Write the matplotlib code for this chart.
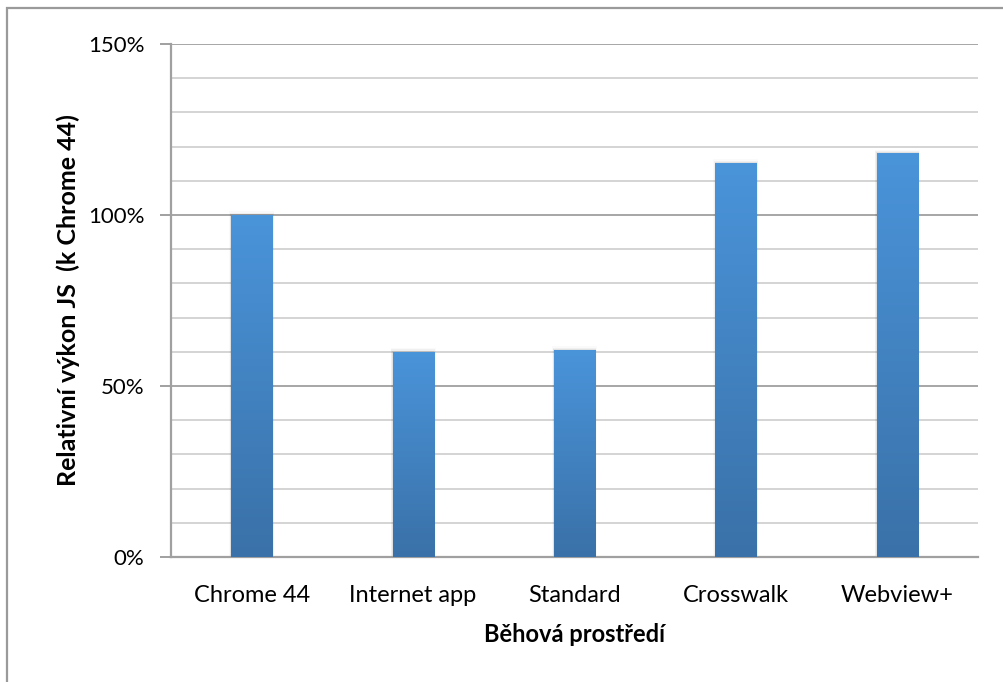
import numpy as np
import matplotlib
matplotlib.use("Agg")
import matplotlib.pyplot as plt
from matplotlib.patches import Rectangle
from matplotlib.colors import LinearSegmentedColormap

categories = ["Chrome 44", "Internet app", "Standard", "Crosswalk", "Webview+"]
values = [100.0, 60.0, 60.5, 115.2, 118.1]
y_ticks = [0, 50, 100, 150]
y_tick_labels = ["0%", "50%", "100%", "150%"]

plt.rcParams["font.family"] = ["Lato", "DejaVu Sans"]

fig = plt.figure(figsize=(10.04, 6.82), dpi=100)
ax = fig.add_axes([171 / 1004, 1 - 557 / 682, (978 - 171) / 1004, (557 - 44) / 682])

# outer chart-area frame
fig.patches.append(Rectangle((7 / 1004, -0.1), 1.2, (682 - 8) / 682 + 0.1,
                             transform=fig.transFigure, fill=False,
                             edgecolor="#9a9a9a", linewidth=1.6))

x = np.arange(len(categories))
width = 0.255
bars = ax.bar(x, values, width=width, color="none", edgecolor="none", zorder=3)

grad = LinearSegmentedColormap.from_list("bar", ["#3a71a8", "#4a94da"])
gimg = np.linspace(0, 1, 256).reshape(-1, 1)
for b in bars:
    x0, w, h = b.get_x(), b.get_width(), b.get_height()
    # soft shadow
    for k, a in enumerate([0.06, 0.04, 0.02]):
        ax.add_patch(Rectangle((x0 - 0.004 * (k + 1), 0), w + 0.008 * (k + 1), h + 0.35 * (k + 1),
                               facecolor="black", alpha=a, edgecolor="none", zorder=2))
    im = ax.imshow(gimg, cmap=grad, aspect="auto", origin="lower",
                   extent=(x0, x0 + w, 0, h), zorder=3)
    im.set_clip_path(b)

ax.set_xlim(-0.5, len(categories) - 0.5)
ax.set_ylim(0, 150)

ax.set_yticks(y_ticks)
ax.set_yticklabels(y_tick_labels)
ax.set_yticks(np.arange(0, 151, 10), minor=True)
ax.yaxis.grid(True, which="minor", color="#d4d4d4", linewidth=1.4, zorder=0)
ax.yaxis.grid(True, which="major", color="#a6a6a6", linewidth=1.4, zorder=0)
ax.set_axisbelow(True)

ax.set_xticks(x)
ax.set_xticklabels(categories)

for s in ["top", "right"]:
    ax.spines[s].set_visible(False)
for s in ["left", "bottom"]:
    ax.spines[s].set_color("#a0a0a0")
    ax.spines[s].set_linewidth(1.6)

ax.tick_params(axis="y", which="major", length=8, width=1.4, color="#a0a0a0",
               labelsize=16, pad=11, labelcolor="black")
ax.tick_params(axis="y", which="minor", length=0)
ax.tick_params(axis="x", length=0, labelsize=17, pad=20, labelcolor="black")

ax.set_xlabel("Běhová prostředí", fontsize=17, fontweight="bold")
ax.set_ylabel("Relativní výkon JS  (k Chrome 44)", fontsize=18, fontweight="bold")
ax.xaxis.set_label_coords((575 - 171) / 807, (557 - 635) / 513)
ax.yaxis.set_label_coords((68 - 171) / 807, 0.5)
ax.xaxis.label.set_va("center")
ax.yaxis.label.set_va("center")

fig.savefig("out.png", dpi=100, facecolor="white")
